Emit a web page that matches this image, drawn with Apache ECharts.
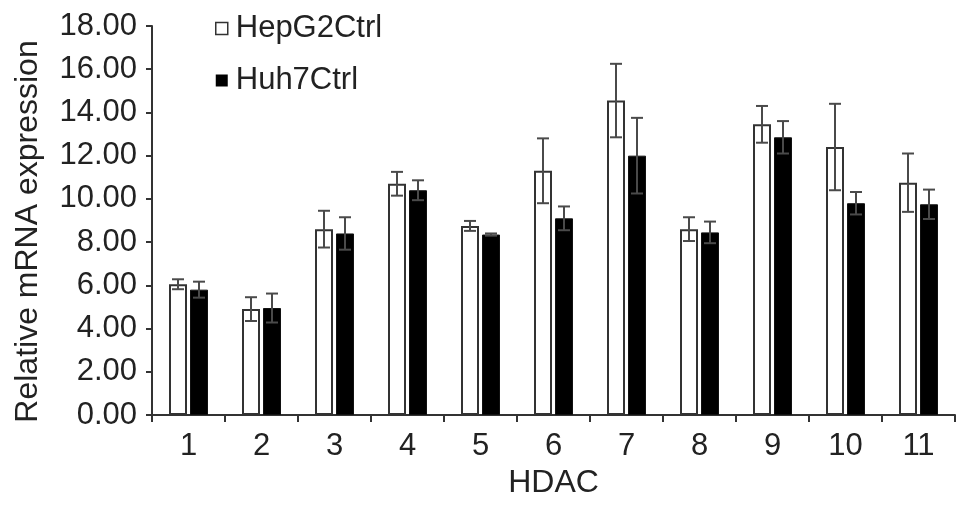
<!DOCTYPE html>
<html>
<head>
<meta charset="utf-8">
<title>HDAC expression</title>
<script src="https://cdn.jsdelivr.net/npm/echarts@6/dist/echarts.min.js"></script>
<style>
  html, body { margin: 0; padding: 0; background: #fff; }
  #chart { width: 969px; height: 506px; }
</style>
</head>
<body>
<div id="chart"></div>
<script>
// data
const categories = ['1', '2', '3', '4', '5', '6', '7', '8', '9', '10', '11'];
const hepg2 = [6.05, 4.9, 8.6, 10.7, 8.75, 11.3, 14.55, 8.6, 13.45, 12.4, 10.75];
const hepg2Err = [0.23, 0.55, 0.85, 0.55, 0.23, 1.5, 1.7, 0.55, 0.85, 2.0, 1.35];
const huh7 = [5.8, 4.95, 8.4, 10.4, 8.35, 9.1, 12.0, 8.45, 12.85, 9.8, 9.75];
const huh7Err = [0.37, 0.67, 0.75, 0.46, 0.05, 0.55, 1.75, 0.5, 0.75, 0.52, 0.68];
const yMin = 0, yMax = 18, yStep = 2;

const font = '"Liberation Sans", Arial, Helvetica, sans-serif';
const ink = '#222';
const barW = 18;
const barGapPx = 3;

// error bar drawn on top of a bar, offset to its slot in the group
function errorSeries(name, means, errs, offset) {
  const data = means.map((m, i) => [i, m - errs[i], m + errs[i]]);
  return {
    name: name + ' err',
    type: 'custom',
    z: 5,
    silent: true,
    data: data,
    encode: { x: 0, y: [1, 2] },
    renderItem: function (params, api) {
      const lo = api.coord([api.value(0), api.value(1)]);
      const hi = api.coord([api.value(0), api.value(2)]);
      const x = lo[0] + offset;
      const cap = 6;
      const style = { stroke: '#4a4a4a', lineWidth: 2 };
      return {
        type: 'group',
        children: [
          { type: 'line', shape: { x1: x, y1: lo[1], x2: x, y2: hi[1] }, style: style },
          { type: 'line', shape: { x1: x - cap, y1: hi[1], x2: x + cap, y2: hi[1] }, style: style },
          { type: 'line', shape: { x1: x - cap, y1: lo[1], x2: x + cap, y2: lo[1] }, style: style }
        ]
      };
    }
  };
}

const chart = echarts.init(document.getElementById('chart'));
const half = (barW * 2 + barGapPx) / 2;

chart.setOption({
  animation: false,
  backgroundColor: '#fff',
  textStyle: { fontFamily: font, color: ink },
  grid: { left: 152, right: 14, top: 26, bottom: 91 },
  legend: {
    orient: 'vertical',
    left: 210,
    top: 8,
    itemWidth: 12,
    itemHeight: 12,
    itemGap: 21,
    textStyle: { fontFamily: font, fontSize: 31, color: ink, padding: [0, 0, 0, 3] },
    data: [
      { name: 'HepG2Ctrl', icon: 'rect', itemStyle: { color: '#fff', borderColor: '#333', borderWidth: 1.5 } },
      { name: 'Huh7Ctrl', icon: 'rect', itemStyle: { color: '#000', borderColor: '#000', borderWidth: 0 } }
    ]
  },
  xAxis: {
    type: 'category',
    data: categories,
    name: 'HDAC',
    nameLocation: 'middle',
    nameGap: 50,
    nameTextStyle: { fontFamily: font, fontSize: 32, color: ink },
    axisLine: { lineStyle: { color: '#333', width: 2 } },
    axisTick: { show: true, length: 7, inside: false, lineStyle: { color: '#333', width: 2 } },
    axisLabel: { fontFamily: font, fontSize: 31, color: ink, margin: 16 },
    splitLine: { show: false }
  },
  yAxis: {
    type: 'value',
    min: yMin,
    max: yMax,
    interval: yStep,
    name: 'Relative mRNA expression',
    nameLocation: 'middle',
    nameRotate: 90,
    nameGap: 108,
    nameTextStyle: { fontFamily: font, fontSize: 32, color: ink, padding: [0, 22, 0, 0] },
    axisLine: { show: true, lineStyle: { color: '#333', width: 2 } },
    axisTick: { show: true, length: 6, lineStyle: { color: '#333', width: 2 } },
    axisLabel: {
      fontFamily: font, fontSize: 31, color: ink, margin: 15,
      formatter: function (v) { return v.toFixed(2); }
    },
    splitLine: { show: false }
  },
  series: [
    {
      name: 'HepG2Ctrl',
      type: 'bar',
      data: hepg2,
      barWidth: barW,
      barGap: (barGapPx / barW * 100) + '%',
      itemStyle: { color: '#fff', borderColor: '#333', borderWidth: 2 }
    },
    {
      name: 'Huh7Ctrl',
      type: 'bar',
      data: huh7,
      barWidth: barW,
      itemStyle: { color: '#000', borderColor: '#111', borderWidth: 1 }
    },
    errorSeries('HepG2Ctrl', hepg2, hepg2Err, -half + barW / 2),
    errorSeries('Huh7Ctrl', huh7, huh7Err, half - barW / 2)
  ]
});
</script>
</body>
</html>
